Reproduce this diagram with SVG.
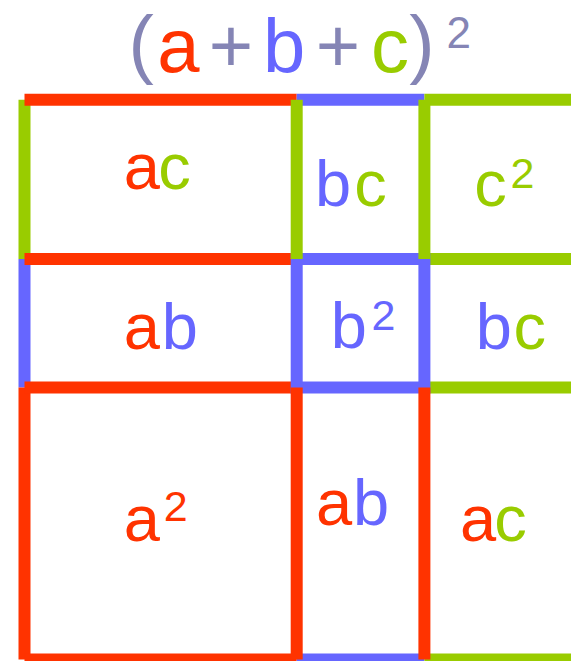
<svg xmlns="http://www.w3.org/2000/svg" width="571" height="661" viewBox="0 0 571 661">
<style>
  text { font-family: "Liberation Sans", Arial, sans-serif; }
  .t { font-size: 76px; }
  .tsup { font-size: 44px; }
  .l { font-size: 65px; }
  .sup { font-size: 43px; }
  .R { fill: #FF3300; }
  .B { fill: #6666FF; }
  .G { fill: #99CC00; }
  .P { fill: #8585B5; }
  .ln { fill: none; stroke-width: 12; stroke-linecap: butt; }
  .sr { stroke: #FF3300; }
  .sb { stroke: #6666FF; }
  .sg { stroke: #99CC00; }
</style>
<rect width="571" height="661" fill="#FFFFFF"/>

<g id="title">
  <text class="t P" x="128.4" y="69">(</text>
  <text class="t R" x="157.3" y="72">a</text>
  <text class="t P" x="208.7" y="72">+</text>
  <text class="t B" x="263" y="72">b</text>
  <text class="t P" x="315.7" y="72">+</text>
  <text class="t G" x="371" y="72">c</text>
  <text class="t P" x="409.3" y="69">)</text>
  <text class="tsup P" x="446.5" y="48">2</text>
</g>

<g id="connectors">
  <!-- left column verticals -->
  <line class="ln sg" x1="24.5" y1="99.8" x2="24.5" y2="259"/>
  <line class="ln sb" x1="24.5" y1="259" x2="24.5" y2="387.5"/>
  <line class="ln sr" x1="24.5" y1="387.5" x2="24.5" y2="659.5"/>
  <!-- red horizontals -->
  <line class="ln sr" x1="24.5" y1="99.8" x2="296.7" y2="99.8"/>
  <line class="ln sr" x1="24.5" y1="259" x2="296.7" y2="259"/>
  <line class="ln sr" x1="24.5" y1="387.5" x2="296.7" y2="387.5"/>
  <line class="ln sr" x1="24.5" y1="659.5" x2="296.7" y2="659.5"/>
  <!-- blue horizontals -->
  <line class="ln sb" x1="296.7" y1="99.8" x2="424.4" y2="99.8"/>
  <line class="ln sb" x1="296.7" y1="659.5" x2="424.4" y2="659.5"/>
  <!-- green horizontals -->
  <line class="ln sg" x1="424.4" y1="99.8" x2="580" y2="99.8"/>
  <line class="ln sg" x1="424.4" y1="259" x2="580" y2="259"/>
  <line class="ln sg" x1="424.4" y1="387.5" x2="580" y2="387.5"/>
  <line class="ln sg" x1="424.4" y1="659.5" x2="580" y2="659.5"/>
  <!-- b squared -->
  <rect class="ln sb" x="296.7" y="259" width="127.7" height="128.5" stroke-linejoin="miter"/>
  <!-- green verticals (top row) -->
  <line class="ln sg" x1="296.7" y1="99.8" x2="296.7" y2="259"/>
  <line class="ln sg" x1="424.4" y1="99.8" x2="424.4" y2="259"/>
  <!-- red verticals (bottom row) -->
  <line class="ln sr" x1="296.7" y1="387.5" x2="296.7" y2="659.5"/>
  <line class="ln sr" x1="424.4" y1="387.5" x2="424.4" y2="659.5"/>
</g>

<g id="cell-ac-top">
  <text class="l"><tspan class="R" x="123.7" y="188.5">a</tspan><tspan class="G" x="158.2" y="188.5">c</tspan></text>
</g>
<g id="cell-bc-top">
  <text class="l"><tspan class="B" x="315.1" y="205.7">b</tspan><tspan class="G" x="354.2" y="205.7">c</tspan></text>
</g>
<g id="cell-c2">
  <text class="l G" x="474.2" y="205.7">c</text>
  <text class="sup G" x="510.4" y="188.3">2</text>
</g>
<g id="cell-ab-left">
  <text class="l"><tspan class="R" x="123.7" y="349.3">a</tspan><tspan class="B" x="161.8" y="349.3">b</tspan></text>
</g>
<g id="cell-b2">
  <text class="l B" x="330.8" y="348.3">b</text>
  <text class="sup B" x="371.5" y="330">2</text>
</g>
<g id="cell-bc-right">
  <text class="l"><tspan class="B" x="475.8" y="349.3">b</tspan><tspan class="G" x="513.5" y="349.3">c</tspan></text>
</g>
<g id="cell-a2">
  <text class="l R" x="123.7" y="540.7">a</text>
  <text class="sup R" x="163.8" y="520.7">2</text>
</g>
<g id="cell-ab-mid">
  <text class="l"><tspan class="R" x="316" y="525">a</tspan><tspan class="B" x="353.1" y="525">b</tspan></text>
</g>
<g id="cell-ac-right">
  <text class="l"><tspan class="R" x="460" y="541">a</tspan><tspan class="G" x="494.2" y="541">c</tspan></text>
</g>
</svg>
